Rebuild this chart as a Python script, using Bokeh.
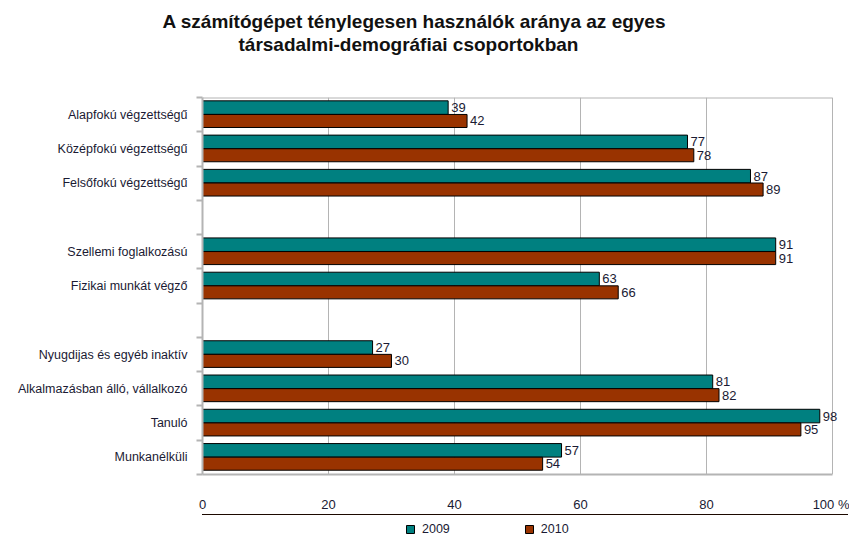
from bokeh.plotting import figure
from bokeh.layouts import column
from bokeh.models import (Range1d, FixedTicker, Title, Legend, LegendItem,
                          ColumnDataSource)
from bokeh.core.properties import value
from bokeh.embed import file_html
from bokeh.resources import INLINE

# ---- data ----
categories = ["Alapfokú végzettségű", "Középfokú végzettségű", "Felsőfokú végzettségű",
              "",
              "Szellemi foglalkozású", "Fizikai munkát végző",
              "",
              "Nyugdijas és egyéb inaktív", "Alkalmazásban álló, vállalkozó",
              "Tanuló", "Munkanélküli"]
values_2009 = [39, 77, 87, None, 91, 63, None, 27, 81, 98, 57]
values_2010 = [42, 78, 89, None, 91, 66, None, 30, 82, 95, 54]
series_names = ["2009", "2010"]
x_ticks = [0, 20, 40, 60, 80, 100]
title_lines = ["A számítógépet ténylegesen használók aránya az egyes",
               "társadalmi-demográfiai csoportokban"]

TEAL = "#008080"
BROWN = "#993300"
TXT = "#1a1a33"
GRAY = "#b4b4b4"
FONT = "Liberation Sans"

n = len(categories)
centers = [2 * i + 1 for i in range(n)]

def build(vals, shift):
    ys, xs, labels = [], [], []
    for c, v in zip(centers, vals):
        if v is None:
            continue
        ys.append(c + shift)
        xs.append(v)
        labels.append(str(v))
    return ColumnDataSource(dict(y=ys, x=xs, label=labels))

src09 = build(values_2009, -0.41)
src10 = build(values_2010, 0.37)

p = figure(width=849, height=514, output_backend="svg", toolbar_location=None,
           x_range=Range1d(0, 102.4), y_range=Range1d(2 * n, 0),
           min_border_left=202, min_border_right=2, min_border_top=97,
           min_border_bottom=37, title=None)
p.background_fill_color = "white"
p.border_fill_color = "white"
p.outline_line_color = None

bar_styles = [dict(fill_color=TEAL, line_color="black", line_width=1),
              dict(fill_color=BROWN, line_color="black", line_width=1)]

p.hbar(y="y", right="x", left=0, height=0.79, source=src09, **bar_styles[0])
p.hbar(y="y", right="x", left=0, height=0.76, source=src10, **bar_styles[1])

# top border of the plot box (0 .. 100 %)
p.line(x=[x_ticks[0], x_ticks[-1]], y=[0, 0], line_color=GRAY, line_width=2)

for src in (src09, src10):
    p.text(x="x", y="y", text="label", source=src, x_offset=3,
           text_baseline="middle", text_align="left",
           text_font=value(FONT), text_font_size="13px", text_color=TXT)

# x axis
p.xaxis.ticker = FixedTicker(ticks=x_ticks)
p.xaxis.bounds = (x_ticks[0], x_ticks[-1])
p.xaxis.major_label_overrides = {100: "100 %"}
p.xaxis.major_tick_out = 0
p.xaxis.major_tick_in = 0
p.xaxis.minor_tick_out = 0
p.xaxis.minor_tick_in = 0
p.xaxis.major_label_standoff = 22
p.xaxis.axis_line_color = GRAY
p.xaxis.axis_line_width = 2
p.xaxis.major_label_text_font = FONT
p.xaxis.major_label_text_font_size = "13px"
p.xaxis.major_label_text_color = TXT

# y axis: labels at slot centres, tick marks at slot boundaries
p.yaxis.ticker = FixedTicker(ticks=centers, minor_ticks=list(range(0, 2 * n + 1, 2)))
p.yaxis.major_label_overrides = {c: lab for c, lab in zip(centers, categories)}
p.yaxis.major_tick_out = 0
p.yaxis.major_tick_in = 0
p.yaxis.minor_tick_out = 6
p.yaxis.minor_tick_in = 0
p.yaxis.minor_tick_line_color = GRAY
p.yaxis.minor_tick_line_width = 2
p.yaxis.axis_line_color = GRAY
p.yaxis.axis_line_width = 2
p.yaxis.major_label_standoff = 9
p.yaxis.major_label_text_font = FONT
p.yaxis.major_label_text_font_size = "12.5px"
p.yaxis.major_label_text_color = TXT

p.xgrid.grid_line_color = GRAY
p.xgrid.grid_line_width = 1
p.ygrid.grid_line_color = None

# title (two lines) with a spacer between it and the plot box
spacer = Title(text=" ", text_font_size="10px", standoff=30)
t2 = Title(text=title_lines[1], align="left", offset=36, text_font=FONT,
           text_font_size="19px", text_font_style="bold", text_color="#111111",
           standoff=0)
t1 = Title(text=title_lines[0], align="left", offset=-40, text_font=FONT,
           text_font_size="19px", text_font_style="bold", text_color="#111111",
           standoff=0)
p.add_layout(spacer, "above")
p.add_layout(t2, "above")
p.add_layout(t1, "above")

# legend strip below the chart (its frame is aligned with the chart's frame)
lg = figure(width=849, height=23, output_backend="svg", toolbar_location=None,
            x_axis_type=None, y_axis_type=None, min_border=0,
            x_range=Range1d(0, 1), y_range=Range1d(-10, -9))
lg.outline_line_color = None
lg.grid.grid_line_color = None
lg.background_fill_color = "white"
lg.border_fill_color = "white"
# same series, drawn outside this strip's range: only their legend keys show
k09 = lg.hbar(y="y", right="x", left=0, height=0.79, source=src09, **bar_styles[0])
k10 = lg.hbar(y="y", right="x", left=0, height=0.76, source=src10, **bar_styles[1])
legend = Legend(items=[LegendItem(label=series_names[0], renderers=[k09]),
                       LegendItem(label=series_names[1], renderers=[k10])],
                location=(203, 1), orientation="horizontal", spacing=74,
                padding=0, margin=0, border_line_color=None,
                background_fill_alpha=0, glyph_width=10, glyph_height=10,
                label_standoff=7, label_text_font=FONT,
                label_text_font_size="12.5px", label_text_color=TXT)
lg.add_layout(legend, "center")

open("out.html", "w").write(file_html(column(p, lg, spacing=0), INLINE))
